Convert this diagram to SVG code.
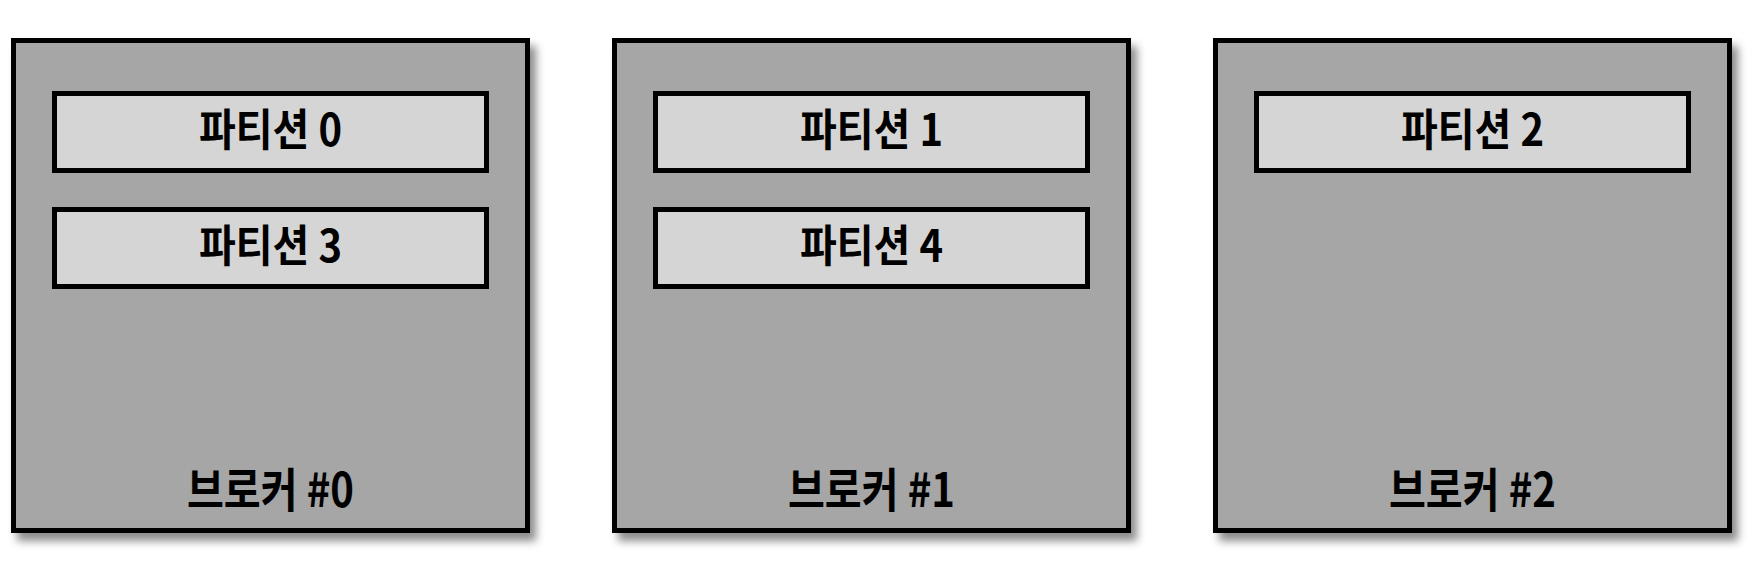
<svg xmlns="http://www.w3.org/2000/svg" width="1758" height="562" viewBox="0 0 1758 562">
  <defs>
    <filter id="shadow" x="-10%" y="-10%" width="130%" height="130%">
      <feDropShadow dx="6" dy="8" stdDeviation="4" flood-color="#000" flood-opacity="0.45"/>
    </filter>
  </defs>
  <style>
    .broker { fill: #a6a6a6; stroke: #000; stroke-width: 5; }
    .part { fill: #d5d5d5; stroke: #000; stroke-width: 5; }
    .ptxt { font-family: "Noto Sans CJK KR", "Noto Sans", sans-serif; font-weight: bold; font-size: 44px; fill: #000; text-anchor: middle; }
    .btxt { font-family: "Noto Sans CJK KR", "Noto Sans", sans-serif; font-weight: bold; font-size: 47px; fill: #000; text-anchor: middle; }
  </style>
  <rect width="1758" height="562" fill="#fff"/>
  <g id="connectors"/>
  <g id="broker0">
    <rect class="broker" x="13.5" y="40.5" width="514" height="490" filter="url(#shadow)"/>
    <text class="btxt" x="270.5" y="507" textLength="167" lengthAdjust="spacingAndGlyphs">브로커 #0</text>
  </g>
  <g id="broker1">
    <rect class="broker" x="614.5" y="40.5" width="514" height="490" filter="url(#shadow)"/>
    <text class="btxt" x="871.5" y="507" textLength="167" lengthAdjust="spacingAndGlyphs">브로커 #1</text>
  </g>
  <g id="broker2">
    <rect class="broker" x="1215.5" y="40.5" width="514" height="490" filter="url(#shadow)"/>
    <text class="btxt" x="1472.5" y="507" textLength="167" lengthAdjust="spacingAndGlyphs">브로커 #2</text>
  </g>
  <g id="partition0">
    <rect class="part" x="54.5" y="93.5" width="432" height="77"/>
    <text class="ptxt" x="270.5" y="146" textLength="143" lengthAdjust="spacingAndGlyphs">파티션 0</text>
  </g>
  <g id="partition3">
    <rect class="part" x="54.5" y="209.5" width="432" height="77"/>
    <text class="ptxt" x="270.5" y="262" textLength="143" lengthAdjust="spacingAndGlyphs">파티션 3</text>
  </g>
  <g id="partition1">
    <rect class="part" x="655.5" y="93.5" width="432" height="77"/>
    <text class="ptxt" x="871.5" y="146" textLength="143" lengthAdjust="spacingAndGlyphs">파티션 1</text>
  </g>
  <g id="partition4">
    <rect class="part" x="655.5" y="209.5" width="432" height="77"/>
    <text class="ptxt" x="871.5" y="262" textLength="143" lengthAdjust="spacingAndGlyphs">파티션 4</text>
  </g>
  <g id="partition2">
    <rect class="part" x="1256.5" y="93.5" width="432" height="77"/>
    <text class="ptxt" x="1472.5" y="146" textLength="143" lengthAdjust="spacingAndGlyphs">파티션 2</text>
  </g>
</svg>
